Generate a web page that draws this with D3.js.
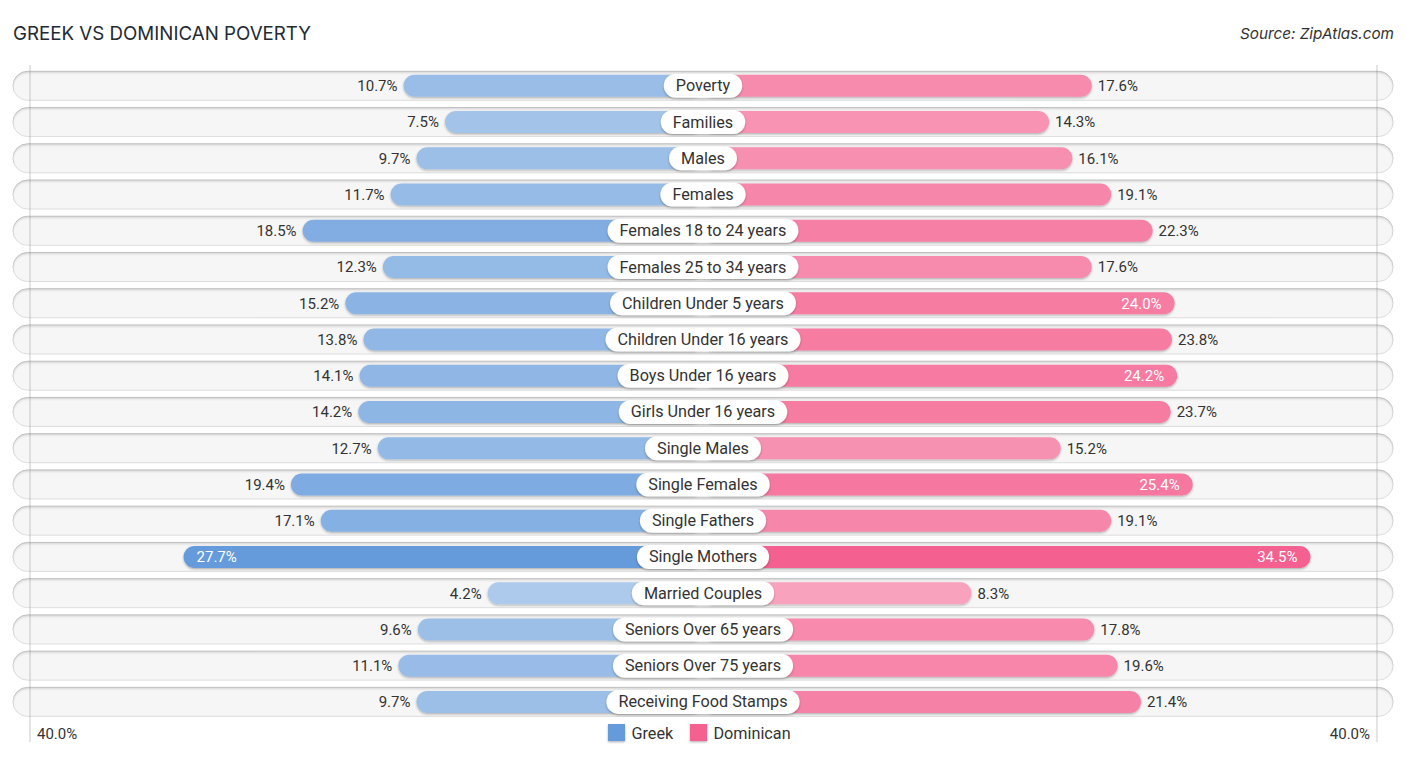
<!DOCTYPE html>
<html>
<head>
<meta charset="utf-8">
<script src="https://cdn.jsdelivr.net/npm/d3@7"></script>
<style>
html, body { margin: 0; padding: 0; background: #fff; }
svg { display: block; }
text { font-family: Roboto, sans-serif; }
</style>
</head>
<body>
<svg id="chart" width="1406" height="758"></svg>
<script>
const categories = ["Poverty", "Families", "Males", "Females", "Females 18 to 24 years", "Females 25 to 34 years",
	"Children Under 5 years", "Children Under 16 years", "Boys Under 16 years", "Girls Under 16 years",
	"Single Males", "Single Females", "Single Fathers", "Single Mothers", "Married Couples",
	"Seniors Over 65 years", "Seniors Over 75 years", "Receiving Food Stamps"];
const greek = [10.7, 7.5, 9.7, 11.7, 18.5, 12.3, 15.2, 13.8, 14.1, 14.2, 12.7, 19.4, 17.1, 27.7, 4.2, 9.6, 11.1, 9.7];
const dominican = [17.6, 14.3, 16.1, 19.1, 22.3, 17.6, 24.0, 23.8, 24.2, 23.7, 15.2, 25.4, 19.1, 34.5, 8.3, 17.8, 19.6, 21.4];
const seriesNames = ["Greek", "Dominican"];
const seriesColors = ["#659bdb", "#f4608f"];
const axisMax = 40;

const svg = d3.select("#chart");
const centre = 703;
const fmt = v => d3.format(".1f")(v) + "%";

// bars start behind the label pill, so the zero sits away from the centre
const dist = d3.scaleLinear().domain([0, axisMax]).range([161, 678.6]);
const y = d3.scaleBand().domain(categories).range([67.7, 720]).paddingInner(0.2).paddingOuter(0.1);
const rowMid = d => y(d) + y.bandwidth() / 2;

const defs = svg.append("defs");

const inset = defs.append("filter").attr("id", "inset")
	.attr("x", "-2%").attr("y", "-20%").attr("width", "104%").attr("height", "140%");
inset.append("feOffset").attr("in", "SourceAlpha").attr("dy", 2).attr("result", "off");
inset.append("feGaussianBlur").attr("in", "off").attr("stdDeviation", 0.8).attr("result", "blur");
inset.append("feComposite").attr("in", "SourceAlpha").attr("in2", "blur")
	.attr("operator", "out").attr("result", "edge");
inset.append("feFlood").attr("flood-color", "#000").attr("flood-opacity", 0.3).attr("result", "col");
inset.append("feComposite").attr("in", "col").attr("in2", "edge").attr("operator", "in").attr("result", "shade");
const insetMerge = inset.append("feMerge");
insetMerge.append("feMergeNode").attr("in", "SourceGraphic");
insetMerge.append("feMergeNode").attr("in", "shade");

const shadow = defs.append("filter").attr("id", "shadow")
	.attr("x", "-10%").attr("y", "-30%").attr("width", "120%").attr("height", "170%");
shadow.append("feDropShadow").attr("dx", 0).attr("dy", 1.2).attr("stdDeviation", 1)
	.attr("flood-color", "#000").attr("flood-opacity", 0.3);

// title and source
svg.append("text").attr("x", 13).attr("y", 40)
	.attr("font-size", 19.2).attr("fill", "#222b35").style("font-family", "Inter, sans-serif")
	.attr("textLength", 298).attr("lengthAdjust", "spacingAndGlyphs")
	.text("GREEK VS DOMINICAN POVERTY");
svg.append("text").attr("x", 1394).attr("y", 39).attr("text-anchor", "end")
	.attr("font-size", 15).attr("font-style", "italic").attr("fill", "#333")
	.style("font-family", "Inter, sans-serif")
	.attr("textLength", 154).attr("lengthAdjust", "spacingAndGlyphs")
	.text("Source: ZipAtlas.com");

// background tracks
svg.append("g").selectAll("rect").data(categories).join("rect")
	.attr("x", 13).attr("width", 1380)
	.attr("y", d => y(d)).attr("height", y.bandwidth())
	.attr("rx", y.bandwidth() / 2)
	.attr("fill", "#f6f6f6").attr("stroke", "#dedede").attr("stroke-width", 1)
	.attr("filter", "url(#inset)");

// axis edges
svg.append("g").selectAll("line").data([centre - 673, centre + 674]).join("line")
	.attr("x1", d => d).attr("x2", d => d).attr("y1", 65).attr("y2", 742)
	.attr("stroke", "#888").attr("stroke-opacity", 0.45);

const barH = y.bandwidth() - 7;

function drawSide(values, sign, color) {
	const g = svg.append("g");
	const rows = values.map((v, i) => ({v: v, cat: categories[i]}));
	// weaker values fade towards white
	const strength = d3.scaleLinear().domain([0, d3.max(values)]).range([0.45, 1]);
	g.selectAll("rect").data(rows).join("rect")
		.attr("x", d => sign > 0 ? centre : centre - dist(d.v))
		.attr("width", d => dist(d.v))
		.attr("y", d => rowMid(d.cat) - barH / 2)
		.attr("height", barH)
		.attr("rx", barH / 2)
		.attr("fill", d => d3.interpolateRgb("#fff", color)(strength(d.v)))
		.attr("filter", "url(#shadow)");
	g.selectAll("text").data(rows).join("text")
		.attr("x", d => {
			const inside = d.v >= 24;
			return centre + sign * (dist(d.v) + (inside ? -13 : 6));
		})
		.attr("y", d => rowMid(d.cat) + 5.4)
		.attr("text-anchor", d => (d.v >= 24) === (sign > 0) ? "end" : "start")
		.attr("font-size", 15)
		.attr("fill", d => d.v >= 24 ? "#fff" : "#333")
		.text(d => fmt(d.v));
}
drawSide(greek, -1, seriesColors[0]);
drawSide(dominican, 1, seriesColors[1]);

// category pills, sized from their text
const pills = svg.append("g").selectAll("g").data(categories).join("g");
pills.append("text")
	.attr("x", centre).attr("y", d => rowMid(d) + 5.5)
	.attr("text-anchor", "middle").attr("font-size", 16.2).attr("fill", "#333")
	.text(d => d);
pills.insert("rect", "text")
	.each(function(d) {
		const w = this.parentNode.querySelector("text").getComputedTextLength() + 24;
		d3.select(this).attr("x", centre - w / 2).attr("width", w);
	})
	.attr("y", d => rowMid(d) - 12).attr("height", 24).attr("rx", 12)
	.attr("fill", "#fff").attr("filter", "url(#shadow)");

// axis end labels
svg.append("text").attr("x", 37).attr("y", 739).attr("font-size", 15).attr("fill", "#333").text(fmt(axisMax));
svg.append("text").attr("x", 1370).attr("y", 739).attr("text-anchor", "end").attr("font-size", 15).attr("fill", "#333").text(fmt(axisMax));

// legend
const legendX = [608, 690];
const legend = svg.append("g").selectAll("g").data(seriesNames).join("g");
legend.append("rect")
	.attr("x", (d, i) => legendX[i]).attr("y", 724).attr("width", 17).attr("height", 17)
	.attr("fill", (d, i) => seriesColors[i]).attr("filter", "url(#shadow)");
legend.append("text")
	.attr("x", (d, i) => legendX[i] + 23.5).attr("y", 739)
	.attr("font-size", 16.2).attr("fill", "#333").text(d => d);
</script>
</body>
</html>
